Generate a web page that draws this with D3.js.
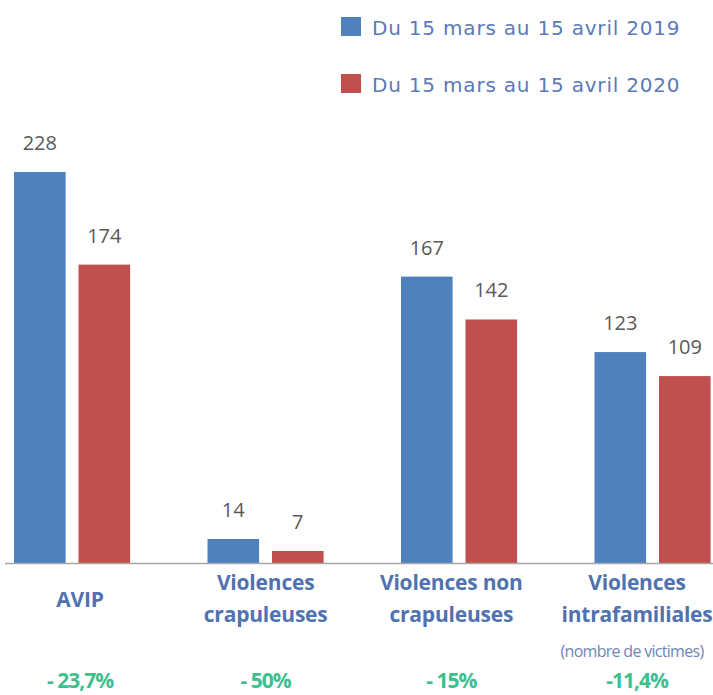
<!DOCTYPE html>
<html>
<head>
<meta charset="utf-8">
<script src="https://cdn.jsdelivr.net/npm/d3@7"></script>
<style>
  body { margin: 0; background: #fff; }
  svg { display: block; }
</style>
</head>
<body>
<div class="chart"></div>
<script>
const categories = ["AVIP", "Violences crapuleuses", "Violences non crapuleuses", "Violences intrafamiliales"];
const labelLines = [["AVIP"], ["Violences", "crapuleuses"], ["Violences non", "crapuleuses"], ["Violences", "intrafamiliales"]];
const series = ["Du 15 mars au 15 avril 2019", "Du 15 mars au 15 avril 2020"];
const values2019 = [228, 14, 167, 123];
const values2020 = [174, 7, 142, 109];
const changes = ["- 23,7%", "- 50%", "- 15%", "-11,4%"];
const note = "(nombre de victimes)";

const width = 713, height = 695;
const colors = ["#4f81bd", "#c0504d"];
const baseY = 563;
const step = 193.5;

const svg = d3.select(".chart").append("svg")
  .attr("width", width)
  .attr("height", height);

// bar groups
const x0 = d3.scaleBand()
  .domain(categories)
  .range([14 - step * 0.2, 14 - step * 0.2 + 4 * step])
  .paddingInner(0.4)
  .paddingOuter(0.2);

const x1 = d3.scaleBand()
  .domain(series)
  .range([0, x0.bandwidth()])
  .paddingInner(0.2);

// label positions under the axis
const xl = d3.scalePoint()
  .domain(categories)
  .range([80, 637]);

const y = d3.scaleLinear()
  .domain([0, 228])
  .range([baseY, 172]);

const data = categories.map((c, i) => ({ cat: c, vals: [values2019[i], values2020[i]] }));

const groups = svg.selectAll(".grp")
  .data(data)
  .enter().append("g")
  .attr("class", "grp")
  .attr("transform", d => "translate(" + x0(d.cat) + ",0)");

groups.selectAll("rect")
  .data(d => d.vals.map((v, j) => ({ s: series[j], v: v, j: j })))
  .enter().append("rect")
  .attr("x", d => x1(d.s))
  .attr("y", d => y(d.v))
  .attr("width", x1.bandwidth())
  .attr("height", d => baseY - y(d.v))
  .style("fill", d => colors[d.j]);

groups.selectAll(".val")
  .data(d => d.vals.map((v, j) => ({ s: series[j], v: v })))
  .enter().append("text")
  .attr("class", "val")
  .attr("x", d => x1(d.s) + x1.bandwidth() / 2)
  .attr("y", d => y(d.v) - 22)
  .attr("text-anchor", "middle")
  .style("font-family", "'Open Sans', sans-serif")
  .style("font-size", "20px")
  .style("fill", "#595959")
  .text(d => d.v);

// baseline
svg.append("line")
  .attr("x1", 5).attr("x2", width)
  .attr("y1", baseY + 0.5).attr("y2", baseY + 0.5)
  .style("stroke", "#a6a6a6")
  .style("stroke-width", 1.5);

// category labels
const labelG = svg.selectAll(".cat")
  .data(data)
  .enter().append("text")
  .attr("class", "cat")
  .attr("text-anchor", "middle")
  .style("font-family", "'Open Sans', sans-serif")
  .style("font-weight", "700")
  .style("font-size", "21px")
  .style("letter-spacing", "-0.2px")
  .style("fill", "#4f72b0")
  .attr("transform", d => "translate(" + xl(d.cat) + ",0)");

labelG.each(function (d, i) {
  const lines = labelLines[i];
  const t = d3.select(this);
  const startY = lines.length === 1 ? 607 : 590;
  lines.forEach((l, k) => {
    t.append("tspan").attr("x", 0).attr("y", startY + k * 32).text(l);
  });
});

svg.append("text")
  .attr("x", xl(categories[3]) - 5)
  .attr("y", 657)
  .attr("text-anchor", "middle")
  .style("font-family", "'Liberation Sans Narrow', 'Open Sans', sans-serif")
  .style("font-size", "16px")
  .style("letter-spacing", "-0.7px")
  .style("fill", "#6f86b5")
  .text(note);

svg.selectAll(".chg")
  .data(data)
  .enter().append("text")
  .attr("class", "chg")
  .attr("x", d => xl(d.cat))
  .attr("y", 688)
  .attr("text-anchor", "middle")
  .style("font-family", "'Open Sans', sans-serif")
  .style("font-weight", "700")
  .style("font-size", "21px")
  .style("letter-spacing", "-1px")
  .style("fill", "#3dbf8f")
  .text((d, i) => changes[i]);

// legend
const legend = svg.selectAll(".legend")
  .data(series)
  .enter().append("g")
  .attr("class", "legend")
  .attr("transform", (d, i) => "translate(341," + (17 + i * 57) + ")");

legend.append("rect")
  .attr("width", 20).attr("height", 19)
  .style("fill", (d, i) => colors[i]);

legend.append("text")
  .attr("x", 31).attr("y", 18)
  .style("font-family", "'DejaVu Sans', sans-serif")
  .style("font-size", "20px")
  .style("letter-spacing", "0.8px")
  .style("fill", "#5a7ab8")
  .text(d => d);
</script>
</body>
</html>
